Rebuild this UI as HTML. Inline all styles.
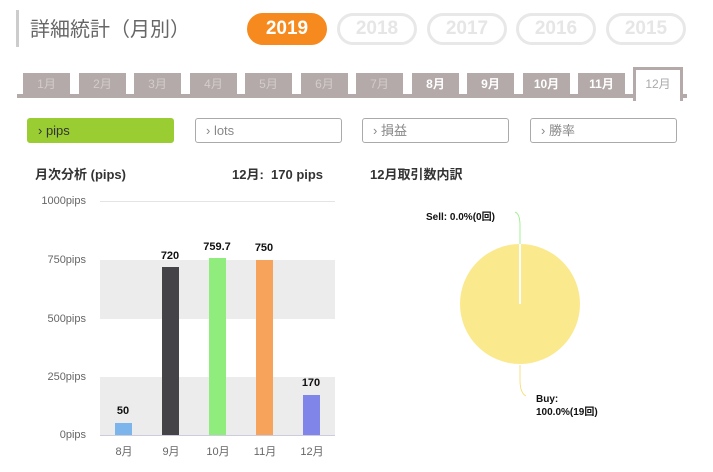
<!DOCTYPE html><html><head><meta charset="utf-8"><style>
body{margin:0;width:713px;height:472px;background:#fff;font-family:"Liberation Sans","Noto Sans CJK JP",sans-serif;position:relative;overflow:hidden}
.a{position:absolute}
.yr{position:absolute;top:13px;height:26px;width:74px;border:3px solid #e8e8e8;border-radius:16px;color:#e6e6e6;font-weight:bold;font-size:19px;text-align:center;line-height:26px}
.tab{position:absolute;top:73px;height:22px;width:47px;background:#b3aaa9;color:#d3cccb;font-size:12px;text-align:center;line-height:22px}
.btn{position:absolute;top:118px;height:23px;width:145px;border:1px solid #aaa;border-radius:3px;font-size:13px;color:#888;line-height:23px;box-sizing:border-box;width:147px;height:25px;padding-left:10px}
.yl{position:absolute;left:20px;width:66px;text-align:right;font-size:11px;color:#666}
.xl{position:absolute;top:443px;width:40px;text-align:center;font-size:11px;color:#666}
.v{position:absolute;width:50px;text-align:center;font-size:11px;font-weight:bold;color:#111}
</style></head><body>
<div class="a" style="left:16px;top:10px;width:3px;height:37px;background:#ccc"></div>
<div class="a" style="left:30px;top:13px;font-size:20px;color:#666">詳細統計（月別）</div>
<div class="yr" style="left:247px;background:#f68a1e;border-color:#f68a1e;color:#fff">2019</div>
<div class="yr" style="left:337px">2018</div>
<div class="yr" style="left:427px">2017</div>
<div class="yr" style="left:516px">2016</div>
<div class="yr" style="left:606px">2015</div>
<div class="a" style="left:17px;top:94px;width:670px;height:4px;background:#b3aaa9"></div>
<div class="tab" style="left:23px">1月</div><div class="tab" style="left:79px">2月</div><div class="tab" style="left:134px">3月</div><div class="tab" style="left:190px">4月</div><div class="tab" style="left:245px">5月</div><div class="tab" style="left:301px">6月</div><div class="tab" style="left:356px">7月</div>
<div class="tab" style="left:412px;color:#fff;font-weight:bold">8月</div><div class="tab" style="left:467px;color:#fff;font-weight:bold">9月</div><div class="tab" style="left:523px;color:#fff;font-weight:bold">10月</div><div class="tab" style="left:578px;color:#fff;font-weight:bold">11月</div>
<div class="a" style="left:633px;top:67px;width:44px;height:31px;border:3px solid #b3aaa9;border-bottom:none;background:#fff;color:#aaa;font-size:12px;text-align:center;line-height:28px">12月</div>
<div class="btn" style="left:27px;background:#9acd32;border-color:#9acd32;color:#333">› pips</div>
<div class="btn" style="left:195px">› lots</div>
<div class="btn" style="left:362px">› 損益</div>
<div class="btn" style="left:530px">› 勝率</div>
<div class="a" style="left:35px;top:164px;font-size:13px;font-weight:bold;color:#333">月次分析 (pips)</div>
<div class="a" style="left:232px;top:164px;font-size:13px;font-weight:bold;color:#333">12月:&nbsp; 170 pips</div>
<div class="a" style="left:370px;top:164px;font-size:13px;font-weight:bold;color:#333">12月取引数内訳</div>
<div class="a" style="left:100px;top:201px;width:235px;height:1px;background:#e4e4e4"></div>
<div class="a" style="left:100px;top:260px;width:235px;height:59px;background:#ececec"></div>
<div class="a" style="left:100px;top:377px;width:235px;height:58px;background:#ececec"></div>
<div class="a" style="left:100px;top:435px;width:235px;height:1px;background:#ccd"></div>
<div class="yl" style="top:195px">1000pips</div><div class="yl" style="top:254px">750pips</div><div class="yl" style="top:313px">500pips</div><div class="yl" style="top:371px">250pips</div><div class="yl" style="top:429px">0pips</div>
<div class="a" style="left:115px;top:423px;width:17px;height:12px;background:#7cb5ec"></div>
<div class="a" style="left:162px;top:267px;width:17px;height:168px;background:#434348"></div>
<div class="a" style="left:209px;top:258px;width:17px;height:177px;background:#90ed7d"></div>
<div class="a" style="left:256px;top:260px;width:17px;height:175px;background:#f7a35c"></div>
<div class="a" style="left:303px;top:395px;width:17px;height:40px;background:#8085e9"></div>
<div class="v" style="left:98px;top:405px">50</div><div class="v" style="left:145px;top:250px">720</div><div class="v" style="left:192px;top:241px">759.7</div><div class="v" style="left:239px;top:242px">750</div><div class="v" style="left:286px;top:377px">170</div>
<div class="xl" style="left:104px">8月</div><div class="xl" style="left:151px">9月</div><div class="xl" style="left:198px">10月</div><div class="xl" style="left:245px">11月</div><div class="xl" style="left:292px">12月</div>
<svg class="a" style="left:360px;top:150px" width="330" height="280">
<path d="M155 62 Q160 64 160 75 L160 95" stroke="#90ed7d" fill="none" stroke-width="0.8"/>
<path d="M160 215 L160 230 Q160 243 166 246" stroke="#f7d96a" fill="none" stroke-width="0.8"/>
<circle cx="160" cy="154" r="60" fill="#fbe98e"/>
<line x1="160" y1="94" x2="160" y2="154" stroke="#fff" stroke-width="2"/>
<text x="66" y="70" font-size="10" font-weight="bold" fill="#111">Sell: 0.0%(0回)</text>
<text x="176" y="252" font-size="10" font-weight="bold" fill="#111">Buy:</text>
<text x="176" y="265" font-size="10" font-weight="bold" fill="#111">100.0%(19回)</text>
</svg>
</body></html>
